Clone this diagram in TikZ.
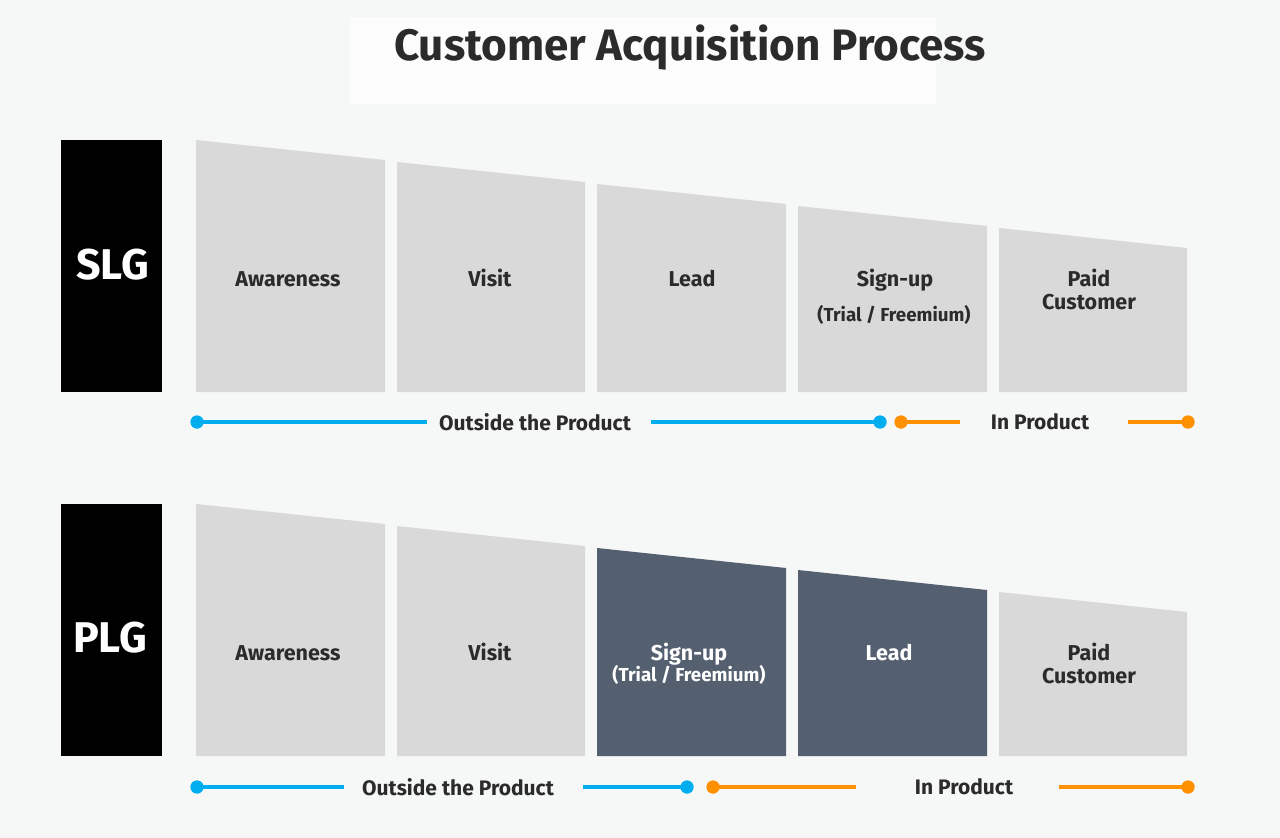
\documentclass[tikz,border=0pt]{standalone}
\usepackage{fontspec}
\setmainfont{Fira Sans}
\definecolor{bgc}{HTML}{F6F7F7}
\definecolor{titlebg}{HTML}{FCFCFC}
\definecolor{stagegrey}{HTML}{D9D9D9}
\definecolor{stagedark}{HTML}{545F70}
\definecolor{txt}{HTML}{2B2B2B}
\definecolor{bluec}{HTML}{00AEEF}
\definecolor{orangec}{HTML}{FF9100}
\tikzset{
  lbl/.style={anchor=base, font=\bfseries\fontsize{21.5}{24}\selectfont, text=txt, inner sep=0pt},
  lblw/.style={lbl, text=white},
  sub/.style={anchor=base, font=\bfseries\fontsize{18.8}{21}\selectfont, text=txt, inner sep=0pt},
  subw/.style={sub, text=white},
  tag/.style={fill=black, inner sep=0pt},
  tagtext/.style={text=white, font=\bfseries\fontsize{43}{48}\selectfont, inner sep=0pt},
  grey/.style={fill=stagegrey},
  dark/.style={fill=stagedark},
  bdot/.style={circle, fill=bluec, minimum size=13pt, inner sep=0pt},
  odot/.style={circle, fill=orangec, minimum size=13pt, inner sep=0pt},
  bline/.style={draw=bluec, line width=4pt},
  oline/.style={draw=orangec, line width=4pt},
  tl/.style={font=\bfseries\fontsize{21}{24}\selectfont, text=txt, inner sep=0pt},
}
\begin{document}
\begin{tikzpicture}[x=1pt,y=-1pt]
\fill[bgc] (0,0) rectangle (1280,838);
\useasboundingbox (0,0) rectangle (1280,838);
% title
\fill[titlebg] (350,17) rectangle (936,104);
\node[font=\bfseries\fontsize{44}{50}\selectfont, text=txt, inner sep=0pt] (title) at (690,48) {Customer Acquisition Process};

% ===== SLG row =====
\node[tag, minimum width=101pt, minimum height=252pt] (slg) at (111.5,266) {};
\node[tagtext] (slgt) at (112.5,265) {SLG};
\fill[grey] (196,140) -- (385,160) -- (385,392) -- (196,392) -- cycle;
\fill[grey] (397,162) -- (585,182) -- (585,392) -- (397,392) -- cycle;
\fill[grey] (597,184) -- (786,204) -- (786,392) -- (597,392) -- cycle;
\fill[grey] (798,206) -- (987,226) -- (987,392) -- (798,392) -- cycle;
\fill[grey] (999,228) -- (1187,248) -- (1187,392) -- (999,392) -- cycle;
\node[lbl] (s1) at (288,286) {Awareness};
\node[lbl] (s2) at (490,286) {Visit};
\node[lbl] (s3) at (692,286) {Lead};
\node[lbl] (s4) at (895,286) {Sign-up};
\node[sub] (s4b) at (894,321) {(Trial / Freemium)};
\node[lbl] (s5) at (1089,286) {Paid};
\node[lbl] (s5b) at (1089,309) {Customer};

% SLG timeline
\node[bdot] (sa) at (197,422) {};
\coordinate (sa2) at (427,422);
\node[tl] (sout) at (535,422) {Outside the Product};
\coordinate (sb1) at (651,422);
\node[bdot] (sb) at (880,422) {};
\node[odot] (sc) at (901,422) {};
\coordinate (sc2) at (960,422);
\node[tl] (sin) at (1040,422) {In Product};
\coordinate (sd1) at (1128,422);
\node[odot] (sd) at (1188,422) {};
\draw[bline] (sa.center) -- (sa2);
\draw[bline] (sb1) -- (sb.center);
\draw[oline] (sc.center) -- (sc2);
\draw[oline] (sd1) -- (sd.center);
\node[bdot] at (sa) {};
\node[bdot] at (sb) {};
\node[odot] at (sc) {};
\node[odot] at (sd) {};

% ===== PLG row =====
\node[tag, minimum width=101pt, minimum height=252pt] (plg) at (111.5,630) {};
\node[tagtext] (plgt) at (110,638) {PLG};
\fill[grey] (196,504) -- (385,524) -- (385,756) -- (196,756) -- cycle;
\fill[grey] (397,526) -- (585,546) -- (585,756) -- (397,756) -- cycle;
\fill[dark] (597,548) -- (786,568) -- (786,756) -- (597,756) -- cycle;
\fill[dark] (798,570) -- (987,590) -- (987,756) -- (798,756) -- cycle;
\fill[grey] (999,592) -- (1187,612) -- (1187,756) -- (999,756) -- cycle;
\node[lbl] (p1) at (288,660) {Awareness};
\node[lbl] (p2) at (490,660) {Visit};
\node[lblw] (p3) at (689,660) {Sign-up};
\node[subw] (p3b) at (689,681) {(Trial / Freemium)};
\node[lblw] (p4) at (889,660) {Lead};
\node[lbl] (p5) at (1089,660) {Paid};
\node[lbl] (p5b) at (1089,683) {Customer};

% PLG timeline
\node[bdot] (pa) at (197,787) {};
\coordinate (pa2) at (344,787);
\node[tl] (pout) at (458,787) {Outside the Product};
\coordinate (pb1) at (583,787);
\node[bdot] (pb) at (687,787) {};
\node[odot] (pc) at (713,787) {};
\coordinate (pc2) at (856,787);
\node[tl] (pin) at (964,787) {In Product};
\coordinate (pd1) at (1059,787);
\node[odot] (pd) at (1188,787) {};
\draw[bline] (pa.center) -- (pa2);
\draw[bline] (pb1) -- (pb.center);
\draw[oline] (pc.center) -- (pc2);
\draw[oline] (pd1) -- (pd.center);
\node[bdot] at (pa) {};
\node[bdot] at (pb) {};
\node[odot] at (pc) {};
\node[odot] at (pd) {};
\end{tikzpicture}
\end{document}
